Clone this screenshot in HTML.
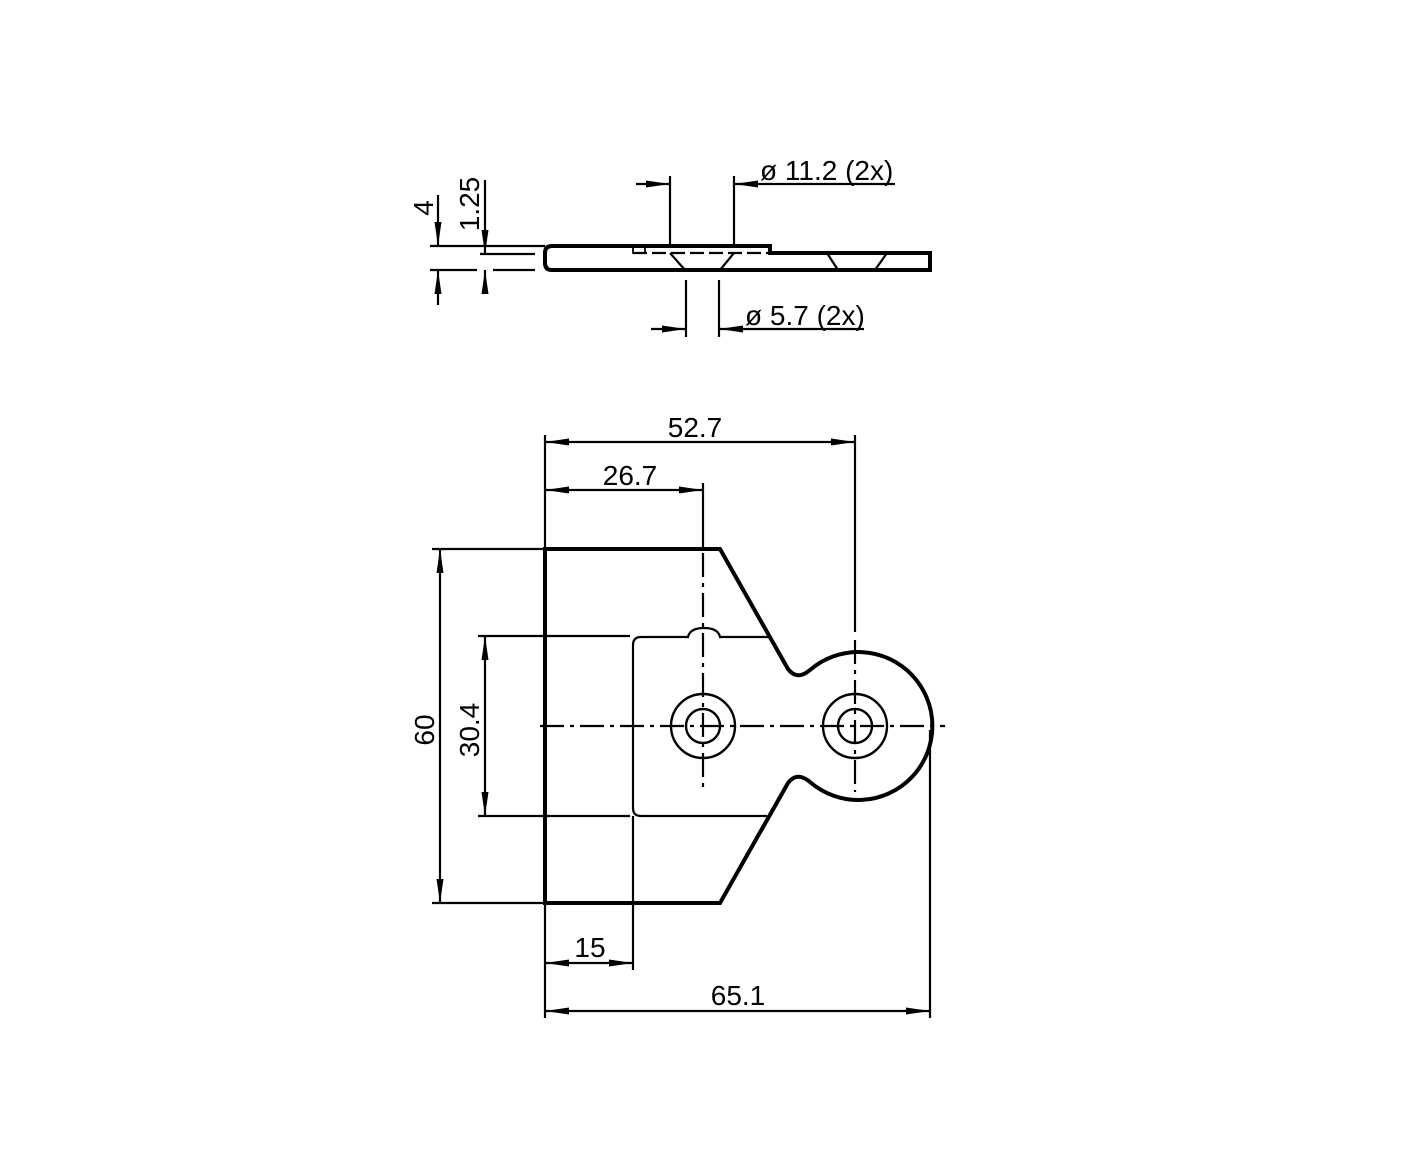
<!DOCTYPE html>
<html><head><meta charset="utf-8"><style>
html,body{margin:0;padding:0;background:#fff;}
svg{display:block;}
text{font-family:"Liberation Sans",sans-serif;font-size:28px;fill:#000;}
</style></head><body>
<svg width="1418" height="1170" viewBox="0 0 1418 1170" xmlns="http://www.w3.org/2000/svg">
<defs>
<marker id="a" viewBox="0 0 24 10" refX="24" refY="5" markerWidth="24" markerHeight="10" markerUnits="userSpaceOnUse" orient="auto-start-reverse"><path d="M0,1.5 L24,5 L0,8.5 Z" fill="#000"/></marker>
</defs>
<g stroke="#000" fill="none">
<!-- SIDE VIEW -->
<path d="M552,246 L770,246 L770,253 L930,253 L930,270 L552,270 Q545,270 545,263 L545,253 Q545,246 552,246 Z" stroke-width="4"/>
<path d="M633,253 L770,253" stroke-width="2.2" stroke-dasharray="14,5"/>
<path d="M633,247 L645,247 L645,253 L633,253 Z" stroke-width="1.8"/>
<path d="M670,253 L685,270 M734,253 L720,270 M827,253 L838,270 M887,253 L875,270" stroke-width="2.2"/>
<!-- left dims -->
<path d="M430,246 L545,246 M430,270 L477,270 M493,270 L535,270 M480,254 L535,254" stroke-width="2.2"/>
<path d="M438,195 L438,246" stroke-width="2.2" marker-end="url(#a)"/>
<path d="M438,305 L438,270" stroke-width="2.2" marker-end="url(#a)"/>
<path d="M485,180 L485,254" stroke-width="2.2" marker-end="url(#a)"/>
<path d="M485,287 L485,270" stroke-width="2.2" marker-end="url(#a)"/>
<!-- dia 11.2 -->
<path d="M670,176 L670,246 M734,176 L734,246" stroke-width="2.2"/>
<path d="M636,184 L670,184" stroke-width="2.2" marker-end="url(#a)"/>
<path d="M895,184 L734,184" stroke-width="2.2" marker-end="url(#a)"/>
<!-- dia 5.7 -->
<path d="M686,280 L686,337 M719,280 L719,337" stroke-width="2.2"/>
<path d="M651,329 L686,329" stroke-width="2.2" marker-end="url(#a)"/>
<path d="M864,329 L719,329" stroke-width="2.2" marker-end="url(#a)"/>

<!-- TOP VIEW -->
<path d="M545,549 L720,549 L788,669 Q797,681 810,670 A74 74 0 1 1 810,782 Q797,771 788,783 L720,903 L545,903 Z" stroke-width="4"/>
<path d="M770,637 L720,637 Q718,628 704,628 Q690,628 688,637 L641,637 Q633,637 633,645 L633,808 Q633,816 641,816 L767,816" stroke-width="2.2"/>
<circle cx="703" cy="726" r="32" stroke-width="2.4"/>
<circle cx="703" cy="726" r="17" stroke-width="2.4"/>
<circle cx="855" cy="726" r="32" stroke-width="2.4"/>
<circle cx="855" cy="726" r="17" stroke-width="2.4"/>
<!-- centerlines -->
<path d="M540,726 L945,726" stroke-width="2.2" stroke-dasharray="24,6,4,6"/>
<path d="M703,553 L703,792" stroke-width="2.2" stroke-dasharray="24,6,4,6"/>
<path d="M855,640 L855,792" stroke-width="2.2" stroke-dasharray="24,6,4,6"/>
<!-- extension lines -->
<path d="M545,435 L545,549 M703,483 L703,549 M855,435 L855,632 M432,549 L545,549 M432,903 L545,903 M478,636 L630,636 M478,816 L630,816 M633,816 L633,970 M545,903 L545,1018 M930,730 L930,1018" stroke-width="2.2"/>
<!-- dimension lines -->
<path d="M545,442 L855,442" stroke-width="2.2" marker-start="url(#a)" marker-end="url(#a)"/>
<path d="M545,490 L703,490" stroke-width="2.2" marker-start="url(#a)" marker-end="url(#a)"/>
<path d="M440,549 L440,903" stroke-width="2.2" marker-start="url(#a)" marker-end="url(#a)"/>
<path d="M485,636 L485,816" stroke-width="2.2" marker-start="url(#a)" marker-end="url(#a)"/>
<path d="M545,963 L633,963" stroke-width="2.2" marker-start="url(#a)" marker-end="url(#a)"/>
<path d="M545,1011 L930,1011" stroke-width="2.2" marker-start="url(#a)" marker-end="url(#a)"/>
</g>
<text x="760" y="180">ø 11.2 (2x)</text>
<text x="745" y="325">ø 5.7 (2x)</text>
<text transform="translate(433,208) rotate(-90)" text-anchor="middle">4</text>
<text transform="translate(479,204) rotate(-90)" text-anchor="middle">1.25</text>
<text x="695" y="437" text-anchor="middle">52.7</text>
<text x="630" y="485" text-anchor="middle">26.7</text>
<text transform="translate(434,730) rotate(-90)" text-anchor="middle">60</text>
<text transform="translate(479,730) rotate(-90)" text-anchor="middle">30.4</text>
<text x="590" y="957" text-anchor="middle">15</text>
<text x="738" y="1005" text-anchor="middle">65.1</text>
</svg>
</body></html>
